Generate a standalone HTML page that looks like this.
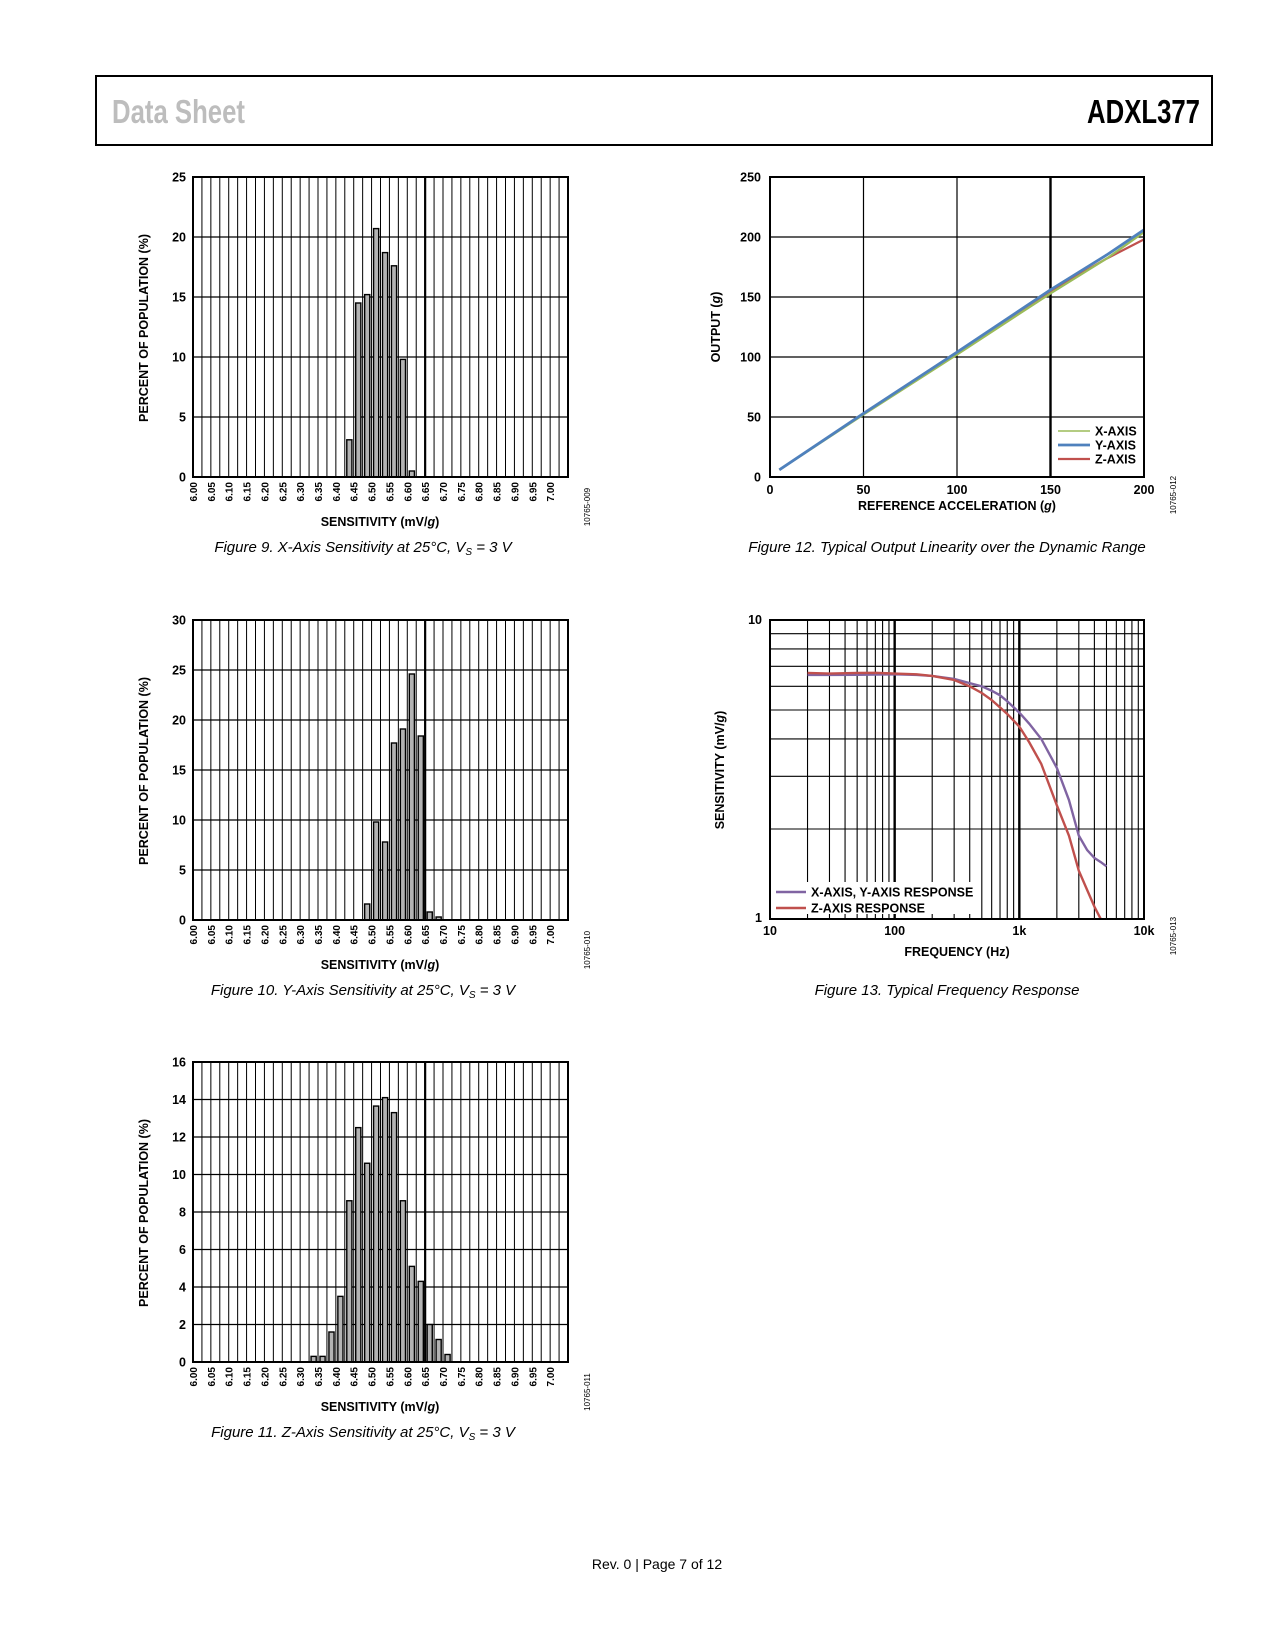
<!DOCTYPE html>
<html><head><meta charset="utf-8"><title>ADXL377 Data Sheet p7</title>
<style>
html,body{margin:0;padding:0;background:#fff;}
svg{display:block;font-family:"Liberation Sans",Arial,sans-serif;}
.b{font-weight:bold;}
.cap{font-style:italic;font-size:15px;}
</style></head>
<body>
<svg id="page" width="1275" height="1650" viewBox="0 0 1275 1650" xmlns="http://www.w3.org/2000/svg">
<g>
<rect x="96" y="76" width="1116" height="69" fill="none" stroke="#000" stroke-width="2"/>
<text x="112" y="123" font-size="33" font-weight="bold" fill="#bdbdbd" transform="translate(112 0) scale(0.78 1) translate(-112 0)">Data Sheet</text>
<text x="1200" y="123" font-size="33" font-weight="bold" fill="#000" text-anchor="end" transform="translate(1200 0) scale(0.78 1) translate(-1200 0)">ADXL377</text>
</g>
<g id="charts"></g>
<text x="657" y="1569" font-size="14" text-anchor="middle">Rev. 0 | Page 7 of 12</text>
</svg>
<script>
// ---- Histogram data (bin centers in mV/g, percent) ----
const h1Bins = [6.425,6.45,6.475,6.50,6.525,6.55,6.575,6.60];
const h1Vals = [3.1,14.5,15.2,20.7,18.7,17.6,9.8,0.5];
const h1YTicks = [0,5,10,15,20,25];
const h2Bins = [6.475,6.50,6.525,6.55,6.575,6.60,6.625,6.65,6.675];
const h2Vals = [1.6,9.8,7.8,17.7,19.1,24.6,18.4,0.8,0.3];
const h2YTicks = [0,5,10,15,20,25,30];
const h3Bins = [6.325,6.35,6.375,6.40,6.425,6.45,6.475,6.50,6.525,6.55,6.575,6.60,6.625,6.65,6.675,6.70];
const h3Vals = [0.3,0.3,1.6,3.5,8.6,12.5,10.6,13.65,14.1,13.3,8.6,5.1,4.3,2.0,1.2,0.4];
const h3YTicks = [0,2,4,6,8,10,12,14,16];
const sensTickLabels = ["6.00","6.05","6.10","6.15","6.20","6.25","6.30","6.35","6.40","6.45","6.50","6.55","6.60","6.65","6.70","6.75","6.80","6.85","6.90","6.95","7.00"];
// ---- Linearity data ----
const linRef = [5,50,100,150,180,200];
const linX = [6,52,102,153,182,204];
const linY = [6,53,104,156,185,206];
const linZ = [6,53,104,155,182,198];
const linXTicks = [0,50,100,150,200];
const linYTicks = [0,50,100,150,200,250];
// ---- Frequency response data ----
const frFreqZ = [20,30,50,70,100,150,200,300,400,500,600,700,800,1000,1200,1500,2000,2500,3000,3500,4000,4500];
const frZ = [6.65,6.62,6.65,6.66,6.62,6.58,6.5,6.3,6.0,5.7,5.4,5.1,4.85,4.4,3.9,3.3,2.4,1.9,1.45,1.25,1.1,1.0];
const frFreqXY = [20,30,50,70,100,150,200,300,400,500,600,700,800,1000,1200,1500,2000,2500,3000,3500,4000,4500,5000];
const frXY = [6.55,6.55,6.56,6.57,6.58,6.55,6.5,6.35,6.15,6.0,5.8,5.6,5.35,4.9,4.5,4.0,3.2,2.5,1.9,1.7,1.6,1.55,1.5];
const frXTickVals = [10,100,1000,10000];
const frXTickLabels = ["10","100","1k","10k"];

const NS="http://www.w3.org/2000/svg";
const root=document.getElementById('charts');
function mk(tag,attrs,parent,txt){const e=document.createElementNS(NS,tag);for(const k in attrs)e.setAttribute(k,attrs[k]);if(txt!==undefined)e.textContent=txt;(parent||root).appendChild(e);return e;}

function histogram(name,top,bins,vals,yTicks,caption,sub,id){
  const g=mk('g',{});
  
  
  const L=193,R=568,T=top,B=top+300,colW=(R-L)/42;
  const yMax=yTicks[yTicks.length-1];
  const x=v=>L+(v-6.0)/0.025*colW;
  const y=v=>B-v/yMax*(B-T);
  for(let i=1;i<42;i++){const xx=L+i*colW;mk('line',{x1:xx,y1:T,x2:xx,y2:B,stroke:'#000','stroke-width':i===26?2.2:1},g);}
  yTicks.forEach(t=>{if(t>0&&t<yMax)mk('line',{x1:L,y1:y(t),x2:R,y2:y(t),stroke:'#000','stroke-width':1.2},g);
    const lb=mk('text',{x:L-7,y:y(t)+4.5,'font-size':12.5,'font-weight':'bold','text-anchor':'end'},g,String(t));
    
    });
  bins.forEach((b,i)=>{const r=mk('rect',{x:x(b)+2,y:y(vals[i]),width:colW-3.8,height:B-y(vals[i]),fill:'#b3b3b3',stroke:'#000','stroke-width':1.4},g);
    
    });
  mk('rect',{x:L,y:T,width:R-L,height:B-T,fill:'none',stroke:'#000','stroke-width':2},g);
  sensTickLabels.forEach((s,i)=>{const xx=L+i*2*colW+4;const t=mk('text',{x:xx,y:B+5,'font-size':10,'font-weight':'bold','text-anchor':'end',transform:`rotate(-90 ${xx} ${B+5})`},g,s);
    
    });
  const xt=mk('text',{x:380,y:B+49,'font-size':12.5,'font-weight':'bold','text-anchor':'middle'},g);
  
  
  xt.innerHTML='SENSITIVITY (mV/<tspan font-style="italic">g</tspan>)';
  const yt=mk('text',{x:148,y:T+151,'font-size':12.5,'font-weight':'bold','text-anchor':'middle',transform:`rotate(-90 148 ${T+151})`},g,'PERCENT OF POPULATION (%)');
  
  
  const idt=mk('text',{x:590,y:B+30,'font-size':8,'text-anchor':'middle',transform:`rotate(-90 590 ${B+30})`},g,id);
  
  
  const c=mk('text',{x:363,y:B+75,'text-anchor':'middle',class:'cap'},g);
  
  
  c.innerHTML=caption+', V<tspan font-size="10" dy="3">S</tspan><tspan dy="-3"> = 3 V</tspan>';
}
histogram('x-axis-sensitivity-histogram',177,h1Bins,h1Vals,h1YTicks,'Figure 9. X-Axis Sensitivity at 25°C','','10765-009');
histogram('y-axis-sensitivity-histogram',620,h2Bins,h2Vals,h2YTicks,'Figure 10. Y-Axis Sensitivity at 25°C','','10765-010');
histogram('z-axis-sensitivity-histogram',1062,h3Bins,h3Vals,h3YTicks,'Figure 11. Z-Axis Sensitivity at 25°C','','10765-011');

// Linearity chart
(function(){
  const g=mk('g',{});
  
  
  const L=770,R=1144,T=177,B=477;
  const x=v=>L+v/200*(R-L), y=v=>B-v/250*(B-T);
  linXTicks.forEach(t=>{if(t>0&&t<200)mk('line',{x1:x(t),y1:T,x2:x(t),y2:B,stroke:'#000','stroke-width':t===150?2.4:1.2},g);
    const lb=mk('text',{x:x(t),y:B+17,'font-size':12.5,'font-weight':'bold','text-anchor':'middle'},g,String(t));
    
    });
  linYTicks.forEach(t=>{if(t>0&&t<250)mk('line',{x1:L,y1:y(t),x2:R,y2:y(t),stroke:'#000','stroke-width':1.2},g);
    const lb=mk('text',{x:L-9,y:y(t)+4.5,'font-size':12.5,'font-weight':'bold','text-anchor':'end'},g,String(t));
    
    });
  const pts=a=>linRef.map((r,i)=>x(r)+','+y(a[i])).join(' ');
  const z=mk('polyline',{points:pts(linZ),fill:'none',stroke:'#c0504d','stroke-width':2.2},g);
  
  
  const xl=mk('polyline',{points:pts(linX),fill:'none',stroke:'#9bbb59','stroke-width':2.2},g);
  
  
  const yl=mk('polyline',{points:pts(linY),fill:'none',stroke:'#4f81bd','stroke-width':2.8},g);
  
  
  mk('rect',{x:L,y:T,width:R-L,height:B-T,fill:'none',stroke:'#000','stroke-width':2},g);
  [['X-AXIS','#9bbb59',431,1.6],['Y-AXIS','#4f81bd',445,2.8],['Z-AXIS','#c0504d',459,2.2]].forEach(l=>{
    const lg=mk('g',{},g);
    
    
    mk('line',{x1:1058,y1:l[2],x2:1090,y2:l[2],stroke:l[1],'stroke-width':l[3]},lg);
    mk('text',{x:1095,y:l[2]+4.5,'font-size':12.5,'font-weight':'bold'},lg,l[0]);});
  const xt=mk('text',{x:957,y:510,'font-size':12.5,'font-weight':'bold','text-anchor':'middle'},g);
  
  
  xt.innerHTML='REFERENCE ACCELERATION (<tspan font-style="italic">g</tspan>)';
  const yt=mk('text',{x:720,y:327,'font-size':12.5,'font-weight':'bold','text-anchor':'middle',transform:'rotate(-90 720 327)'},g);
  
  
  yt.innerHTML='OUTPUT (<tspan font-style="italic">g</tspan>)';
  const idt=mk('text',{x:1176,y:495,'font-size':8,'text-anchor':'middle',transform:'rotate(-90 1176 495)'},g,'10765-012');
  
  
  const c=mk('text',{x:947,y:552,'text-anchor':'middle',class:'cap'},g,'Figure 12. Typical Output Linearity over the Dynamic Range');
  
  
})();

// Frequency response chart
(function(){
  const g=mk('g',{});
  
  
  const L=770,R=1144,T=620,B=919;
  const x=f=>L+(Math.log10(f)-1)/3*(R-L), y=v=>B-Math.log10(v)*(B-T);
  for(let d=10;d<10000;d*=10){for(let k=2;k<=9;k++){mk('line',{x1:x(d*k),y1:T,x2:x(d*k),y2:B,stroke:'#000','stroke-width':1.1},g);}}
  [100,1000].forEach(f=>mk('line',{x1:x(f),y1:T,x2:x(f),y2:B,stroke:'#000','stroke-width':2.4},g));
  for(let k=2;k<=9;k++)mk('line',{x1:L,y1:y(k),x2:R,y2:y(k),stroke:'#000','stroke-width':1.1},g);
  frXTickVals.forEach((f,i)=>{const lb=mk('text',{x:x(f),y:935,'font-size':12.5,'font-weight':'bold','text-anchor':'middle'},g,frXTickLabels[i]);
    
    });
  const y10=mk('text',{x:762,y:624,'font-size':12.5,'font-weight':'bold','text-anchor':'end'},g,'10');
  
  
  const y1=mk('text',{x:762,y:922,'font-size':12.5,'font-weight':'bold','text-anchor':'end'},g,'1');
  
  
  const clip=mk('clipPath',{id:'frclip'},g);mk('rect',{x:L,y:T,width:R-L,height:B-T},clip);
  const xy=mk('polyline',{points:frFreqXY.map((f,i)=>x(f)+','+y(frXY[i])).join(' '),fill:'none',stroke:'#8064a2','stroke-width':2.4,'clip-path':'url(#frclip)'},g);
  
  
  const zl=mk('polyline',{points:frFreqZ.map((f,i)=>x(f)+','+y(frZ[i])).join(' '),fill:'none',stroke:'#c0504d','stroke-width':2.4,'clip-path':'url(#frclip)'},g);
  
  
  mk('rect',{x:774,y:882,width:200,height:32,fill:'#fff'},g);
  mk('rect',{x:L,y:T,width:R-L,height:B-T,fill:'none',stroke:'#000','stroke-width':2},g);
  [['X-AXIS, Y-AXIS RESPONSE','#8064a2',892],['Z-AXIS RESPONSE','#c0504d',908]].forEach(l=>{
    const lg=mk('g',{},g);
    
    
    mk('line',{x1:776,y1:l[2],x2:806,y2:l[2],stroke:l[1],'stroke-width':2.4},lg);
    mk('text',{x:811,y:l[2]+4.5,'font-size':12.5,'font-weight':'bold'},lg,l[0]);});
  const xt=mk('text',{x:957,y:956,'font-size':12.5,'font-weight':'bold','text-anchor':'middle'},g,'FREQUENCY (Hz)');
  
  
  const yt=mk('text',{x:724,y:770,'font-size':12.5,'font-weight':'bold','text-anchor':'middle',transform:'rotate(-90 724 770)'},g);
  
  
  yt.innerHTML='SENSITIVITY (mV/<tspan font-style="italic">g</tspan>)';
  const idt=mk('text',{x:1176,y:936,'font-size':8,'text-anchor':'middle',transform:'rotate(-90 1176 936)'},g,'10765-013');
  
  
  const c=mk('text',{x:947,y:995,'text-anchor':'middle',class:'cap'},g,'Figure 13. Typical Frequency Response');
  
  
})();
</script>
</body></html>
